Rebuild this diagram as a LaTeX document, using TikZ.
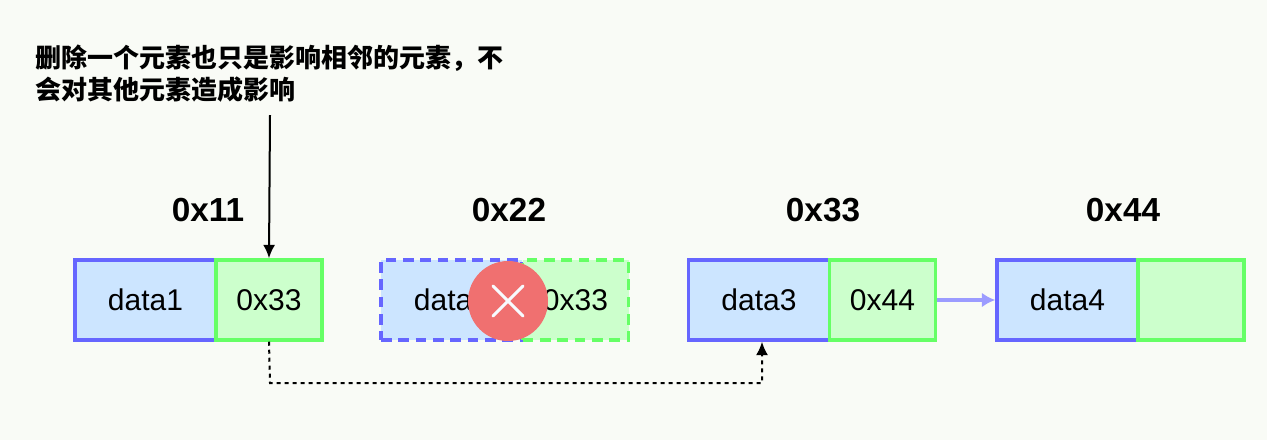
\documentclass[tikz,border=0pt]{standalone}
\usepackage{fontspec}
\setmainfont{Liberation Sans}
\newfontfamily\cjk{Noto Sans CJK SC}
\usetikzlibrary{arrows.meta,calc}
\definecolor{bfill}{HTML}{CCE5FF}
\definecolor{bline}{HTML}{6666FF}
\definecolor{gfill}{HTML}{CCFFCC}
\definecolor{gline}{HTML}{66FF66}
\definecolor{bg}{HTML}{F9FBF6}
\definecolor{xred}{HTML}{F07070}
\begin{document}
\begin{tikzpicture}[x=0.75pt,y=-0.75pt,
  dbox/.style={draw=bline,fill=bfill,line width=2.6pt,minimum width=105.75pt,minimum height=60pt,inner sep=0pt,font=\fontsize{22.5}{26}\selectfont},
  pbox/.style={draw=gline,fill=gfill,line width=2.6pt,minimum width=79.5pt,minimum height=60pt,inner sep=0pt,font=\fontsize{22.5}{26}\selectfont},
  addr/.style={font=\bfseries\fontsize{25}{28}\selectfont},
  dsh/.style={dash pattern=on 8pt off 5pt}]
\fill[bg] (0,0) rectangle (1267,440);
\useasboundingbox (0,0) rectangle (1267,440);
% node 1
\node[dbox] (d1) at (145.5,300) {data1};
\node[pbox] (p1) at (269,300) {0x33};
\node[addr] (a1) at (208,210) {0x11};
% node 2
\node[dbox,dsh] (d2) at (451.5,300) {data2};
\node[pbox,dsh] (p2) at (575.5,300) {0x33};
\node[addr] (a2) at (509,210) {0x22};
\node[circle,fill=xred,minimum size=60pt,inner sep=0pt] (x) at (508,301) {};
\draw[white!85!bfill,line width=2.2pt,line cap=round] ($(x)+(-15,-15)$) -- ($(x)+(15,15)$) ($(x)+(15,-15)$) -- ($(x)+(-15,15)$);
% node 3
\node[dbox] (d3) at (759,300) {data3};
\node[pbox] (p3) at (882.5,300) {0x44};
\node[addr] (a3) at (823,210) {0x33};
% node 4
\node[dbox] (d4) at (1067.5,300) {data4};
\node[pbox] (p4) at (1191,300) {};
\node[addr] (a4) at (1123,210) {0x44};
\draw[-{Latex[length=10pt,width=11pt]},draw=bline!65,line width=3pt] (p3.east) -- (d4.west);
% dashed link
\coordinate (c1) at (270,383);
\coordinate (c2) at (762,383);
\draw[-{Latex[length=10pt,width=9pt]},line width=1.5pt,dash pattern=on 3pt off 3pt] (p1.south) -- (c1) -- (c2) -- (d3.south -| c2);
% annotation
\node[anchor=north west,align=left,font=\cjk\bfseries\fontsize{19.5}{24}\selectfont,inner sep=0pt] (t) at (35,45) {删除一个元素也只是影响相邻的元素，不\\会对其他元素造成影响};
\coordinate (c0) at (270,115);
\draw[-{Latex[length=10pt,width=9pt]},line width=1.5pt] (c0) -- (p1.north);
\end{tikzpicture}
\end{document}
